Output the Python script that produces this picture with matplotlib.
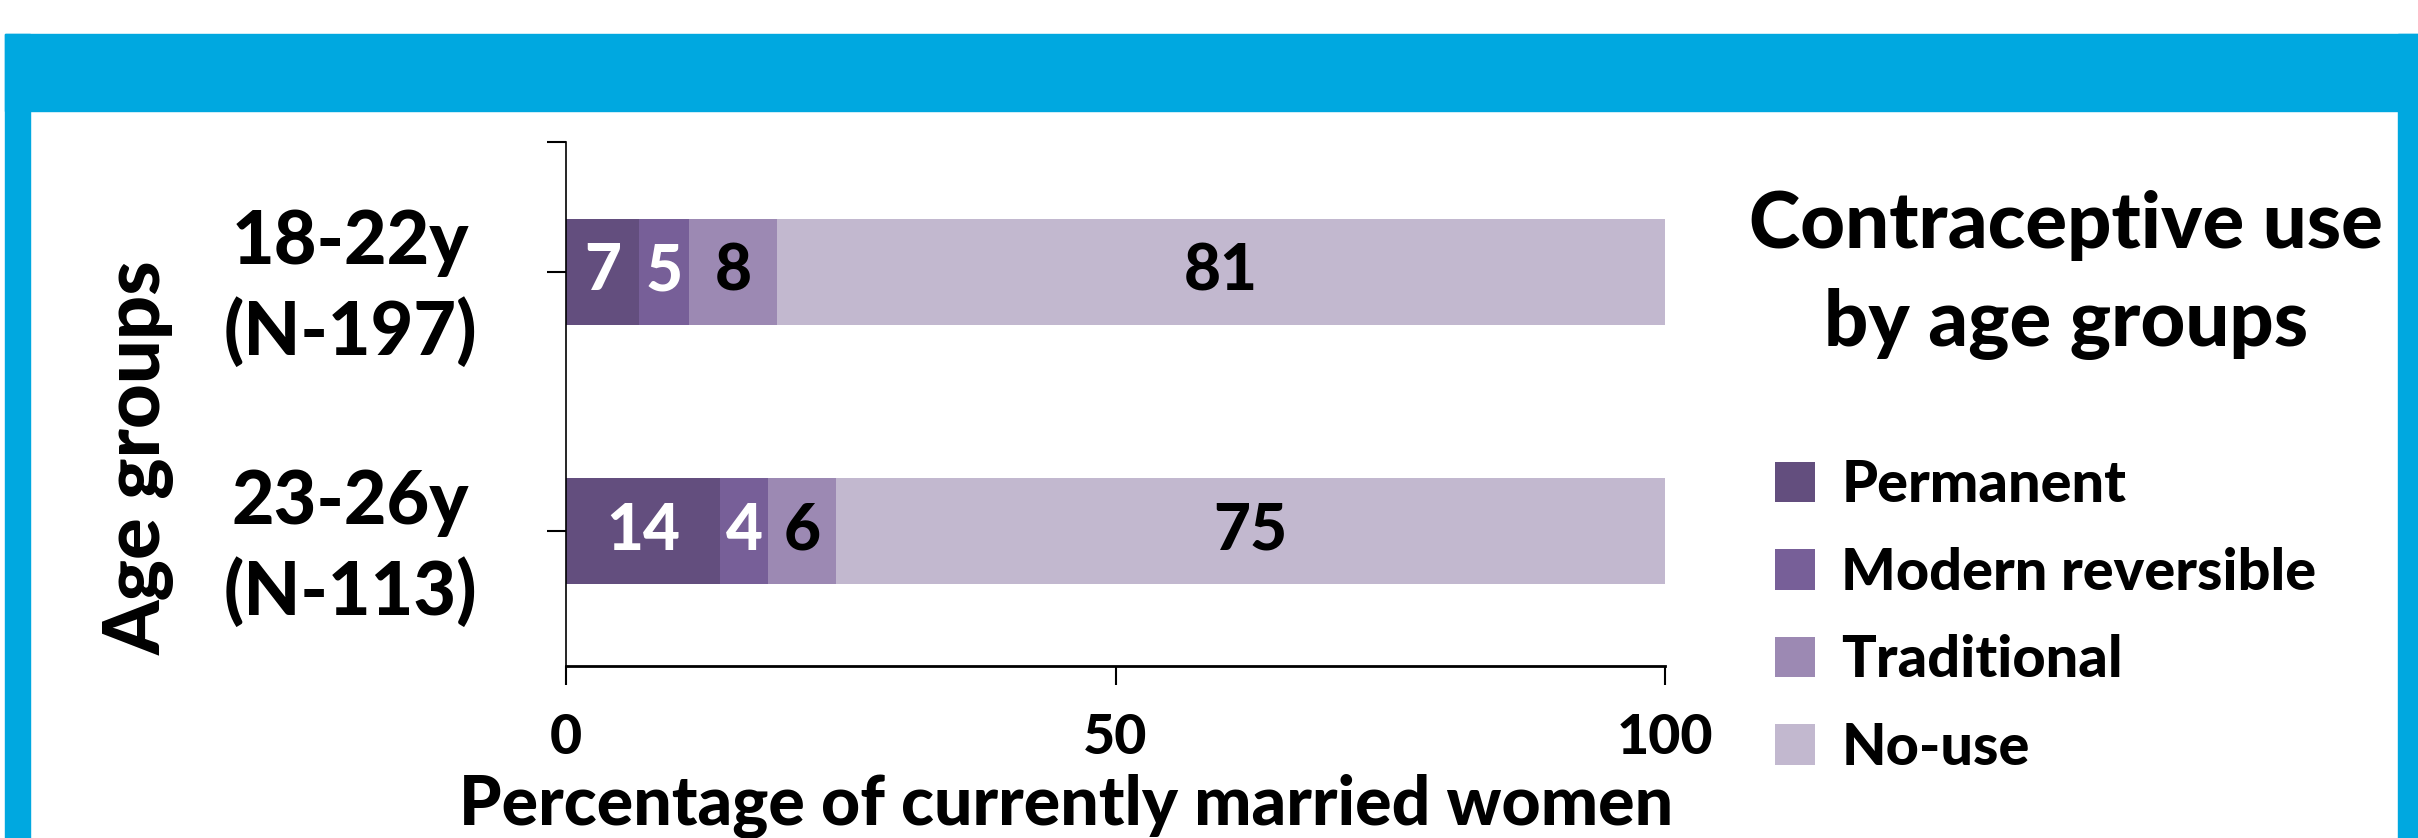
import matplotlib
matplotlib.use("Agg")
import matplotlib.pyplot as plt
from matplotlib.patches import Rectangle
import numpy as np

# data
age_groups = ["18-22y\n(N-197)", "23-26y\n(N-113)"]
methods = ["Permanent", "Modern reversible", "Traditional", "No-use"]
permanent = [6.6, 14.0]
modern_reversible = [4.6, 4.4]
traditional = [8.0, 6.2]
no_use = [80.8, 75.4]
x_ticks = [0, 50, 100]

colors = ["#634E7E", "#775F98", "#9C89B3", "#C2B8CF"]
label_colors = ["white", "white", "black", "black"]
frame_blue = "#00A8E0"

main_font = ["Lato", "DejaVu Sans"]
heavy = 900

W, H = 2418, 838
fig = plt.figure(figsize=(W / 100, H / 100), dpi=100)

# blue frame around the panel
fig.patches.append(Rectangle((5 / W, 1 - 111 / H), 1, (111 - 34) / H,
                             transform=fig.transFigure, color=frame_blue, zorder=0))
fig.patches.append(Rectangle((5 / W, 0), 25 / W, 1 - 34 / H,
                             transform=fig.transFigure, color=frame_blue, zorder=0))
fig.patches.append(Rectangle((2398 / W, 0), 20 / W, 1 - 34 / H,
                             transform=fig.transFigure, color=frame_blue, zorder=0))

ax = fig.add_axes([566 / W, 1 - 666 / H, (1665 - 566) / W, (666 - 142) / H])

series = [permanent, modern_reversible, traditional, no_use]
ypos = np.arange(len(age_groups))
left = np.zeros(len(age_groups))
for vals, name, col, lcol in zip(series, methods, colors, label_colors):
    bars = ax.barh(ypos, vals, left=left, height=0.41, color=col, label=name,
                   edgecolor="none")
    ax.bar_label(bars, labels=[f"{v:.0f}" for v in vals], label_type="center",
                 color=lcol, fontsize=46, fontweight=heavy, family=main_font)
    left += np.array(vals)

ax.set_xlim(0, 100)
ax.set_ylim(1.52, -0.5)
ax.set_xticks(x_ticks)
ax.set_xticklabels([str(t) for t in x_ticks], fontsize=40, fontweight=heavy,
                   family=main_font)
ax.set_yticks(ypos)
ax.set_yticklabels(age_groups, fontsize=53, fontweight=heavy, family=main_font,
                   multialignment="center", linespacing=1.35)
ax.set_yticks([-0.5], minor=True)
ax.tick_params(axis="x", direction="out", length=14, width=1.5, pad=20)
ax.tick_params(axis="y", which="both", direction="out", length=14, width=1.5, pad=50)

for side in ["top", "right"]:
    ax.spines[side].set_visible(False)
ax.spines["left"].set_linewidth(1.2)
ax.spines["bottom"].set_linewidth(2)

ax.set_xlabel("Percentage of currently married women", fontsize=49,
              fontweight=heavy, family=main_font)
ax.xaxis.set_label_coords(0.455, -0.205)

fig.text(139 / W, 1 - 458 / H, "Age groups", rotation=90, ha="center", va="center",
         fontsize=56, fontweight=heavy, family=main_font)

fig.text(2066 / W, 1 - 275 / H, "Contraceptive use\nby age groups", ha="center",
         va="center", fontsize=56, fontweight=heavy, family=main_font,
         linespacing=1.45)

fig.legend(loc="upper left", bbox_to_anchor=(1752 / W, 1 - 436 / H),
           frameon=False, prop={"family": main_font, "weight": heavy, "size": 41.5},
           handlelength=0.7, handleheight=0.7, handletextpad=0.45,
           labelspacing=0.6, borderaxespad=0)

fig.savefig("out.png", dpi=100, facecolor="white")
